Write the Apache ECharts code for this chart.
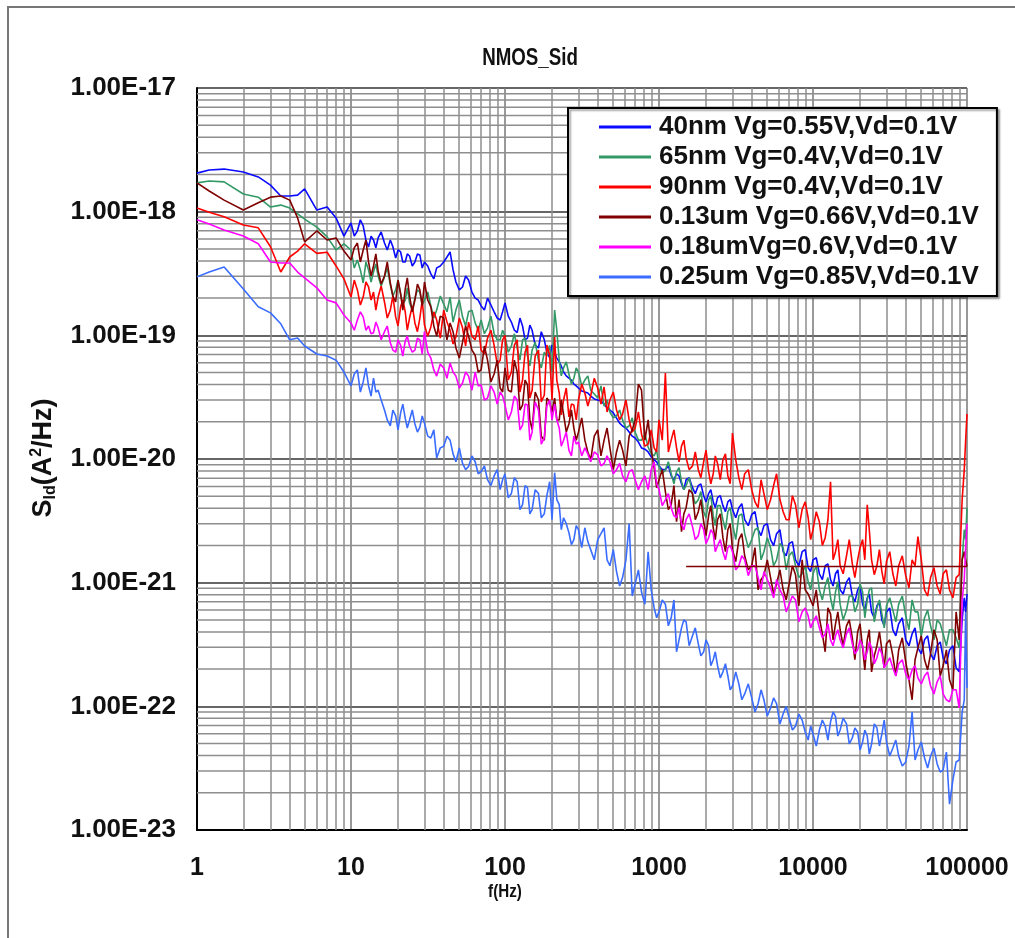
<!DOCTYPE html>
<html>
<head>
<meta charset="utf-8">
<title>NMOS_Sid</title>
<script src="https://cdn.jsdelivr.net/npm/echarts@6/dist/echarts.min.js"></script>
<style>
html, body { margin: 0; padding: 0; background: #fff; }
#chart { width: 1015px; height: 938px; }
</style>
</head>
<body>
<div id="chart"></div>
<script>
/* ============================================================
   NMOS_Sid · drain current noise spectra (log-log)
   ============================================================ */

// ==================== Data ====================
// main frequency grid (Hz)
const freqs = [
    1, 1.2, 1.5, 2, 2.5, 3, 3.5, 4, 4.5, 5, 6, 7, 8, 9,
    10, 11, 12, 13, 14, 15, 16.5, 18, 19.5, 21, 22.5, 24, 26, 28, 30, 33, 36, 40, 44, 48, 53, 58, 64, 70, 77, 85, 93,
    100, 110, 120, 130, 140, 150, 165, 180, 195, 210, 225, 240, 260, 280, 300, 330, 360, 400, 440, 480, 530, 580, 640, 700, 770, 850, 930,
    1000, 1100, 1200, 1300, 1400, 1500, 1650, 1800, 1950, 2100, 2250, 2400, 2600, 2800, 3000, 3300, 3600, 4000, 4400, 4800, 5300, 5800, 6400, 7000, 7700, 8500, 9300,
    10000, 11000, 12000, 13000, 14000, 15000, 16500, 18000, 19500, 21000, 22500, 24000, 26000, 28000, 30000, 33000, 36000, 40000, 44000, 48000, 53000, 58000, 64000, 70000, 77000, 85000, 93000, 96000, 98000, 100000
];

// in-between frequencies where the noisy traces swing the other way
const midFreqs = [
    10.5, 11.5, 12.5, 13.5, 14.5, 15.7, 17.2, 18.7, 20.2, 21.7, 23.2, 25, 27, 29, 31.5, 34.5, 38, 42, 46, 50.5, 55.5, 61, 67, 73.5, 81, 89, 96.5,
    105, 115, 125, 135, 145, 157, 172, 187, 202, 217, 232, 250, 270, 290, 315, 345, 380, 420, 460, 505, 555, 610, 670, 735, 810, 890, 965,
    1050, 1150, 1250, 1350, 1450, 1570, 1720, 1870, 2020, 2170, 2320, 2500, 2700, 2900, 3150, 3450, 3800, 4200, 4600, 5050, 5550, 6100, 6700, 7350, 8100, 8900, 9650,
    10500, 11500, 12500, 13500, 14500, 15700, 17200, 18700, 20200, 21700, 23200, 25000, 27000, 29000, 31500, 34500, 38000, 42000, 46000, 50500, 55500, 61000, 67000, 73500, 81000, 89000
];

const s40nm = [
    2.05e-18, 2.17e-18, 2.21e-18, 2.09e-18, 1.91e-18, 1.64e-18, 1.34e-18, 1.34e-18, 1.36e-18, 1.53e-18, 1.03e-18, 1.09e-18, 8.9e-19, 6.35e-19,
    8.1e-19, 6.98e-19, 7.67e-19, 5.18e-19, 5.9e-19, 6.13e-19, 5.58e-19, 5.9e-19, 4.22e-19, 4.72e-19, 3.92e-19, 4.38e-19, 3.92e-19, 4.47e-19, 3.92e-19, 3.14e-19, 3.51e-19, 3.92e-19, 4.72e-19, 2.7e-19, 2.46e-19, 2.8e-19, 2.0e-19, 1.73e-19, 2.0e-19, 1.55e-19, 1.33e-19,
    1.83e-19, 1.28e-19, 1.05e-19, 1.19e-19, 9.5e-20, 1.1e-19, 7.9e-20, 9.2e-20, 6.6e-20, 7.3e-20, 6.1e-20, 5.05e-20, 4.5e-20, 4.04e-20, 3.75e-20, 3.48e-20, 3.23e-20, 3.0e-20, 2.78e-20, 2.49e-20, 2.14e-20, 1.85e-20, 1.65e-20, 1.48e-20, 1.23e-20, 1.14e-20, 9.85e-21,
    8.8e-21, 8.2e-21, 7.3e-21, 7.6e-21, 6.3e-21, 6.8e-21, 5.86e-21, 6.1e-21, 5.05e-21, 5.25e-21, 4.5e-21, 4.87e-21, 4.2e-21, 4.5e-21, 3.9e-21, 4.04e-21, 3.23e-21, 3.55e-21, 2.68e-21, 2.89e-21, 2.23e-21, 2.49e-21, 1.78e-21, 2.07e-21, 1.53e-21, 1.78e-21, 1.32e-21,
    1.53e-21, 1.18e-21, 1.37e-21, 1.06e-21, 1.18e-21, 8.75e-22, 1.01e-21, 7.8e-22, 8.75e-22, 6.7e-22, 7.55e-22, 5.8e-22, 6.5e-22, 5.0e-22, 5.8e-22, 4.16e-22, 4.65e-22, 3.45e-22, 3.85e-22, 2.97e-22, 3.45e-22, 2.66e-22, 3.09e-22, 2.47e-22, 2.86e-22, 2.05e-22, 5.0e-22, 7.55e-22, 5.8e-22, 8.1e-22
];
const s40nmMid = [
    6.35e-19, 8.6e-19, 5.9e-19, 6.35e-19, 5.1e-19, 6.85e-19, 4.9e-19, 5.2e-19, 4.9e-19, 3.92e-19, 4.55e-19, 3.64e-19, 4.55e-19, 3.5e-19, 3.64e-19, 2.86e-19, 3.64e-19, 4.3e-19, 3.38e-19, 2.33e-19, 3.02e-19, 2.24e-19, 1.93e-19, 1.6e-19, 1.76e-19, 1.38e-19, 1.55e-19,
    1.43e-19, 1.1e-19, 1.38e-19, 9.2e-20, 1.21e-19, 8.35e-20, 1.07e-19, 7.3e-20, 8.35e-20, 6.55e-20, 5.65e-20, 4.7e-20, 4.35e-20, 3.9e-20, 3.55e-20, 3.42e-20, 3.06e-20, 2.94e-20, 2.58e-20, 2.36e-20, 1.95e-20, 1.78e-20, 1.53e-20, 1.37e-20, 1.2e-20, 1.04e-20, 9.5e-21,
    8.2e-21, 8.8e-21, 6.8e-21, 7.3e-21, 5.65e-21, 7.06e-21, 5.25e-21, 6.3e-21, 4.5e-21, 5.65e-21, 4.04e-21, 5.05e-21, 3.75e-21, 4.7e-21, 3.35e-21, 4.35e-21, 2.89e-21, 3.75e-21, 2.4e-21, 3.0e-21, 1.99e-21, 2.68e-21, 1.65e-21, 2.15e-21, 1.37e-21, 1.85e-21, 1.23e-21,
    1.59e-21, 1.06e-21, 1.42e-21, 9.4e-22, 1.27e-21, 8.1e-22, 1.1e-21, 7.0e-22, 9.4e-22, 6.0e-22, 8.1e-22, 5.2e-22, 7.0e-22, 4.48e-22, 6.25e-22, 3.72e-22, 5.2e-22, 3.09e-22, 4.31e-22, 2.66e-22, 3.72e-22, 2.38e-22, 3.32e-22, 2.21e-22, 3.09e-22, 1.9e-22
];

const s65nm = [
    1.71e-18, 1.77e-18, 1.74e-18, 1.39e-18, 1.31e-18, 1.09e-18, 1.13e-18, 1.07e-18, 9.6e-19, 8.7e-19, 7.5e-19, 6.25e-19, 4.9e-19, 5.5e-19,
    4.9e-19, 4.07e-19, 2.65e-19, 3.38e-19, 3.25e-19, 3.02e-19, 2.97e-19, 2.56e-19, 2.33e-19, 2.16e-19, 1.93e-19, 1.83e-19, 2.0e-19, 2.24e-19, 1.93e-19, 1.73e-19, 1.6e-19, 1.79e-19, 2.04e-19, 1.6e-19, 1.41e-19, 1.55e-19, 1.26e-19, 1.33e-19, 1.15e-19, 1.03e-19, 9.2e-20,
    9.85e-20, 8.2e-20, 7.9e-20, 9.2e-20, 6.8e-20, 7.6e-20, 6.3e-20, 7.3e-20, 8.3e-20, 1.6e-19, 6.3e-20, 5.45e-20, 4.87e-20, 4.5e-20, 5.05e-20, 4.35e-20, 3.6e-20, 3.11e-20, 2.68e-20, 2.4e-20, 2.23e-20, 2.07e-20, 1.85e-20, 1.65e-20, 1.42e-20, 1.25e-20, 1.06e-20,
    8.8e-21, 8.2e-21, 7.6e-21, 7.9e-21, 6.55e-21, 6.1e-21, 5.25e-21, 4.68e-21, 3.75e-21, 4.68e-21, 3.48e-21, 4.2e-21, 3.23e-21, 3.75e-21, 3.0e-21, 3.48e-21, 2.49e-21, 2.23e-21, 2.78e-21, 1.78e-21, 1.92e-21, 1.53e-21, 1.92e-21, 1.65e-21, 1.37e-21, 1.18e-21, 1.02e-21,
    1.18e-21, 8.75e-22, 9.4e-22, 7.55e-22, 8.4e-22, 6.7e-22, 6.0e-22, 7.8e-22, 6.7e-22, 8.4e-22, 7.25e-22, 9.1e-22, 6.25e-22, 5.6e-22, 6.5e-22, 6.0e-22, 6.7e-22, 5.4e-22, 7.25e-22, 5.8e-22, 5.2e-22, 4.48e-22, 5.0e-22, 3.85e-22, 4.16e-22, 3.58e-22, 1.53e-21, 2.68e-21, 2.23e-21, 4.04e-21
];
const s65nmMid = [
    3.5e-19, 3.38e-19, 3.92e-19, 2.7e-19, 3.78e-19, 2.51e-19, 3.5e-19, 2.08e-19, 2.8e-19, 1.79e-19, 2.42e-19, 1.6e-19, 2.33e-19, 1.76e-19, 2.24e-19, 1.38e-19, 2.08e-19, 1.55e-19, 1.28e-19, 1.93e-19, 1.19e-19, 1.6e-19, 1.1e-19, 1.03e-19, 1.43e-19, 9.2e-20, 1.1e-19,
    7.3e-20, 1.03e-19, 6.3e-20, 9.5e-20, 5.65e-20, 8.8e-20, 5.45e-20, 6.8e-20, 5.05e-20, 1.1e-19, 4.7e-20, 6.1e-20, 4.04e-20, 5.45e-20, 3.9e-20, 4.7e-20, 3.35e-20, 3.9e-20, 3.0e-20, 2.15e-20, 2.49e-20, 1.78e-20, 2.15e-20, 1.42e-20, 1.59e-20, 1.1e-20, 1.18e-20,
    7.6e-21, 9.5e-21, 6.3e-21, 8.5e-21, 5.65e-21, 7.06e-21, 4.35e-21, 5.45e-21, 3.35e-21, 5.05e-21, 2.89e-21, 4.2e-21, 2.68e-21, 4.04e-21, 2.23e-21, 3.6e-21, 1.92e-21, 2.68e-21, 1.53e-21, 2.31e-21, 1.37e-21, 2.07e-21, 1.27e-21, 1.78e-21, 1.1e-21, 1.37e-21, 8.75e-22,
    1.37e-21, 7.25e-22, 1.1e-21, 6.0e-22, 1.02e-21, 5.0e-22, 7.8e-22, 5.8e-22, 9.8e-22, 5.2e-22, 8.75e-22, 4.82e-22, 7.25e-22, 4.31e-22, 7.55e-22, 4.82e-22, 7.8e-22, 4.16e-22, 5.8e-22, 3.72e-22, 6.0e-22, 3.45e-22, 4.65e-22, 3.09e-22, 4.16e-22, 2.97e-22
];

const s90nm = [
    1.07e-18, 9.9e-19, 9.1e-19, 7.8e-19, 7.4e-19, 5.2e-19, 3.25e-19, 4.3e-19, 4.8e-19, 5.5e-19, 4.6e-19, 4.7e-19, 3.64e-19, 2.86e-19,
    2.04e-19, 2.33e-19, 2.04e-19, 2.46e-19, 2.24e-19, 2.04e-19, 1.86e-19, 1.6e-19, 1.41e-19, 1.7e-19, 1.55e-19, 1.38e-19, 1.26e-19, 1.38e-19, 1.21e-19, 1.17e-19, 1.33e-19, 1.6e-19, 1.1e-19, 9.7e-20, 1.15e-19, 1.28e-19, 9.2e-20, 7.6e-20, 9.5e-20, 8.3e-20, 6.3e-20,
    1.0e-19, 5.05e-20, 9.2e-20, 4.35e-20, 8.3e-20, 3.6e-20, 7.6e-20, 3.29e-20, 6.9e-20, 9.7e-20, 3.42e-20, 3.0e-20, 2.19e-20, 2.73e-20, 3.0e-20, 3.42e-20, 3.23e-20, 3.75e-20, 3.82e-20, 3.0e-20, 2.49e-20, 2.31e-20, 2.07e-20, 1.78e-20, 1.59e-20, 1.32e-20, 1.23e-20,
    2.07e-20, 4.96e-20, 1.42e-20, 1.23e-20, 1.27e-20, 1.02e-20, 8.8e-21, 8.2e-21, 9.5e-21, 7.9e-21, 7.6e-21, 9.2e-21, 9.85e-21, 7.3e-21, 1.62e-20, 7.06e-21, 7.6e-21, 5.65e-21, 4.04e-21, 5.25e-21, 4.68e-21, 7.6e-21, 3.75e-21, 3.23e-21, 4.27e-21, 3.9e-21, 3.35e-21,
    2.68e-21, 3.11e-21, 2.31e-21, 6.55e-21, 1.78e-21, 1.37e-21, 1.65e-21, 1.42e-21, 1.53e-21, 2.23e-21, 4.27e-21, 1.53e-21, 1.37e-21, 1.23e-21, 1.48e-21, 1.18e-21, 1.37e-21, 1.14e-21, 1.53e-21, 2.36e-21, 8.75e-22, 1.1e-21, 9.4e-22, 1.18e-21, 8.75e-22, 1.1e-21, 4.68e-21, 8.2e-21, 1.42e-20, 2.31e-20
];
const s90nmMid = [
    2.8e-19, 1.76e-19, 2.7e-19, 1.93e-19, 1.6e-19, 2.51e-19, 1.38e-19, 2.08e-19, 1.19e-19, 1.93e-19, 1.1e-19, 1.73e-19, 1.07e-19, 1.93e-19, 9.85e-20, 1.55e-19, 9.5e-20, 1.28e-19, 8.5e-20, 1.38e-19, 8.2e-20, 9.85e-20, 1.19e-19, 7.06e-20, 1.1e-19, 5.86e-20, 9.2e-20,
    4.35e-20, 8.35e-20, 3.48e-20, 7.3e-20, 3.11e-20, 6.8e-20, 2.89e-20, 8.35e-20, 3.0e-20, 4.35e-20, 2.27e-20, 3.75e-20, 2.78e-20, 2.07e-20, 4.04e-20, 2.68e-20, 4.5e-20, 2.78e-20, 2.4e-20, 3.48e-20, 2.07e-20, 3.0e-20, 1.65e-20, 2.4e-20, 1.27e-20, 1.72e-20, 1.14e-20,
    1.42e-20, 1.14e-20, 1.72e-20, 9.5e-21, 1.42e-20, 8.2e-21, 1.14e-20, 7.06e-21, 1.18e-20, 6.3e-21, 1.06e-20, 6.8e-21, 1.1e-20, 6.3e-21, 9.85e-21, 5.65e-21, 8.2e-21, 4.5e-21, 6.8e-21, 3.9e-21, 6.1e-21, 4.7e-21, 3.23e-21, 5.05e-21, 2.78e-21, 4.5e-21, 2.23e-21,
    3.75e-21, 2.0e-21, 3.23e-21, 1.53e-21, 2.23e-21, 1.18e-21, 2.23e-21, 1.1e-21, 1.92e-21, 1.53e-21, 2.68e-21, 1.16e-21, 1.85e-21, 9.8e-22, 1.78e-21, 9.4e-22, 1.65e-21, 9.1e-22, 1.37e-21, 1.53e-21, 7.8e-22, 1.32e-21, 8.1e-22, 1.27e-21, 7.55e-22, 1.16e-21
];

const s130nm = [
    1.71e-18, 1.47e-18, 1.24e-18, 1.03e-18, 1.18e-18, 1.31e-18, 1.34e-18, 1.24e-18, 8.9e-19, 5.7e-19, 6.98e-19, 5.9e-19, 6.13e-19, 4.8e-19,
    4.07e-19, 5.58e-19, 4.9e-19, 3.92e-19, 3.64e-19, 3.32e-19, 3.02e-19, 2.65e-19, 1.86e-19, 2.16e-19, 2.37e-19, 2.08e-19, 1.93e-19, 2.33e-19, 2.7e-19, 1.7e-19, 9.85e-20, 1.38e-19, 1.26e-19, 7.9e-20, 8.8e-20, 9.85e-20, 6.9e-20, 5.25e-20, 6.3e-20, 4.87e-20, 3.75e-20,
    5.45e-20, 3.48e-20, 5.05e-20, 2.73e-20, 3.97e-20, 1.72e-20, 3.0e-20, 1.42e-20, 2.89e-20, 3.11e-20, 2.07e-20, 2.31e-20, 1.92e-20, 1.78e-20, 1.65e-20, 1.42e-20, 9.85e-21, 1.72e-20, 1.42e-20, 1.23e-20, 1.14e-20, 1.18e-20, 1.53e-20, 2.07e-20, 3.6e-20, 2.07e-20, 8.5e-21,
    6.8e-21, 5.45e-21, 4.27e-21, 3.11e-21, 2.58e-21, 4.04e-21, 5.25e-21, 3.75e-21, 3.11e-21, 3.48e-21, 2.78e-21, 3.23e-21, 2.31e-21, 2.68e-21, 1.85e-21, 2.23e-21, 1.65e-21, 1.37e-21, 8.75e-22, 1.14e-21, 1.1e-21, 9.8e-22, 8.75e-22, 9.8e-22, 1.16e-21, 1.53e-21, 8.1e-22,
    6.5e-22, 5.2e-22, 2.76e-22, 5.6e-22, 4.65e-22, 4.16e-22, 4.48e-22, 3.58e-22, 4.0e-22, 2.97e-22, 3.45e-22, 1.9e-22, 3.09e-22, 2.86e-22, 3.2e-22, 2.56e-22, 2.86e-22, 2.29e-22, 1.13e-22, 2.97e-22, 2.38e-22, 2.66e-22, 3.45e-22, 2.13e-22, 1.64e-22, 5.8e-22, 1.53e-21, 1.78e-21, 1.53e-21, 1.35e-21
];
const s130nmMid = [
    5.1e-19, 3.92e-19, 5.9e-19, 3.02e-19, 4.55e-19, 2.6e-19, 3.92e-19, 2.08e-19, 2.8e-19, 1.6e-19, 2.91e-19, 1.55e-19, 2.6e-19, 1.73e-19, 1.93e-19, 1.19e-19, 1.43e-19, 9.2e-20, 1.07e-19, 6.55e-20, 1.19e-19, 7.6e-20, 5.05e-20, 8.2e-20, 4.2e-20, 6.3e-20, 3.48e-20,
    3.6e-20, 6.3e-20, 2.49e-20, 4.35e-20, 2.07e-20, 3.48e-20, 1.53e-20, 3.11e-20, 2.4e-20, 2.07e-20, 3.0e-20, 1.65e-20, 2.49e-20, 1.42e-20, 2.15e-20, 1.14e-20, 1.53e-20, 1.06e-20, 1.78e-20, 8.2e-21, 1.42e-20, 8.8e-21, 1.72e-20, 4.04e-20, 1.42e-20, 1.18e-20, 5.86e-21,
    8.2e-21, 3.9e-21, 6.1e-21, 4.7e-21, 3.6e-21, 5.65e-21, 3.23e-21, 4.7e-21, 2.4e-21, 4.2e-21, 2.23e-21, 3.6e-21, 1.78e-21, 3.0e-21, 1.48e-21, 2.49e-21, 1.27e-21, 1.92e-21, 1.06e-21, 1.53e-21, 8.1e-22, 1.27e-21, 7.25e-22, 1.37e-21, 6.5e-22, 8.75e-22, 7.25e-22,
    8.75e-22, 3.85e-22, 6.25e-22, 3.45e-22, 5.8e-22, 3.09e-22, 5.0e-22, 2.38e-22, 4.65e-22, 1.97e-22, 4.16e-22, 2.56e-22, 4.0e-22, 2.05e-22, 3.45e-22, 1.76e-22, 3.58e-22, 1.64e-22, 2.38e-22, 3.72e-22, 1.97e-22, 4.16e-22, 1.76e-22, 2.86e-22, 1.36e-22, 3.45e-22
];

// 0.13um trace jumps back across the plot at the end of the sweep
const tail130Freqs = [100000, 1500];
const tail130Values = [1.35e-21, 1.35e-21];

const s180nm = [
    8.6e-19, 7.95e-19, 7.1e-19, 6.35e-19, 5.5e-19, 3.92e-19, 3.85e-19, 3.85e-19, 3.25e-19, 2.91e-19, 2.42e-19, 1.93e-19, 1.83e-19, 1.46e-19,
    1.26e-19, 1.33e-19, 1.41e-19, 1.19e-19, 1.05e-19, 1.15e-19, 1.07e-19, 8.7e-20, 7.3e-20, 8.3e-20, 9.0e-20, 8.2e-20, 7.6e-20, 9.2e-20, 1.07e-19, 6.55e-20, 4.68e-20, 5.45e-20, 5.97e-20, 4.68e-20, 4.12e-20, 4.68e-20, 5.05e-20, 3.97e-20, 3.11e-20, 3.48e-20, 3.48e-20,
    2.73e-20, 2.4e-20, 3.0e-20, 1.88e-20, 2.73e-20, 1.65e-20, 2.49e-20, 1.48e-20, 3.0e-20, 2.78e-20, 1.78e-20, 1.42e-20, 1.18e-20, 1.53e-20, 1.37e-20, 1.23e-20, 9.5e-21, 1.08e-20, 9.2e-21, 9.5e-21, 8.2e-21, 7.3e-21, 7.9e-21, 6.8e-21, 6.55e-21, 5.65e-21, 9.5e-21,
    5.65e-21, 4.68e-21, 4.04e-21, 3.35e-21, 3.0e-21, 3.23e-21, 2.84e-21, 2.4e-21, 2.68e-21, 2.31e-21, 2.49e-21, 1.99e-21, 1.78e-21, 1.92e-21, 1.78e-21, 1.37e-21, 1.53e-21, 1.37e-21, 1.1e-21, 1.23e-21, 9.1e-22, 1.06e-21, 7.8e-22, 6.7e-22, 7.25e-22, 5.8e-22, 5.4e-22,
    4.82e-22, 4.31e-22, 3.85e-22, 3.45e-22, 3.72e-22, 3.45e-22, 3.85e-22, 3.2e-22, 2.86e-22, 3.09e-22, 2.76e-22, 2.97e-22, 2.47e-22, 2.66e-22, 2.21e-22, 2.05e-22, 2.21e-22, 1.83e-22, 1.97e-22, 1.7e-22, 1.76e-22, 1.46e-22, 1.58e-22, 1.26e-22, 1.09e-22, 1.36e-22, 7.25e-22, 1.06e-21, 1.92e-21, 3.0e-21
];
const s180nmMid = [
    1.1e-19, 1.55e-19, 1.1e-19, 1.03e-19, 1.28e-19, 9.2e-20, 1.19e-19, 7.6e-20, 9.2e-20, 6.8e-20, 9.85e-20, 7.3e-20, 9.5e-20, 7.06e-20, 7.3e-20, 5.25e-20, 5.86e-20, 4.5e-20, 5.05e-20, 3.75e-20, 5.05e-20, 3.6e-20, 3.9e-20, 3.0e-20, 3.9e-20, 2.78e-20, 3.23e-20,
    2.07e-20, 3.23e-20, 1.72e-20, 2.78e-20, 1.42e-20, 2.89e-20, 1.32e-20, 2.68e-20, 2.07e-20, 2.07e-20, 1.27e-20, 1.65e-20, 1.06e-20, 1.32e-20, 1.06e-20, 1.1e-20, 1.14e-20, 8.8e-21, 1.06e-20, 7.6e-21, 9.2e-21, 6.55e-21, 8.2e-21, 5.65e-21, 7.3e-21, 8.2e-21, 6.3e-21,
    4.2e-21, 5.25e-21, 3.48e-21, 4.04e-21, 2.68e-21, 3.6e-21, 2.23e-21, 3.0e-21, 2.07e-21, 2.68e-21, 1.78e-21, 2.23e-21, 1.53e-21, 1.99e-21, 1.27e-21, 1.65e-21, 1.14e-21, 1.37e-21, 8.75e-22, 1.06e-21, 7.55e-22, 8.75e-22, 5.8e-22, 7.8e-22, 4.82e-22, 6.25e-22, 4.31e-22,
    5.4e-22, 3.58e-22, 4.65e-22, 3.09e-22, 4.16e-22, 2.97e-22, 4.31e-22, 2.66e-22, 3.45e-22, 2.38e-22, 3.32e-22, 2.21e-22, 2.97e-22, 2.05e-22, 2.47e-22, 1.76e-22, 2.38e-22, 1.64e-22, 2.13e-22, 1.52e-22, 1.9e-22, 1.26e-22, 1.76e-22, 1.13e-22, 1.36e-22, 9.7e-23
];

const s250nm = [
    2.97e-19, 3.25e-19, 3.57e-19, 2.37e-19, 1.7e-19, 1.52e-19, 1.24e-19, 9.2e-20, 9.5e-20, 8.2e-20, 7.06e-20, 6.8e-20, 6.3e-20, 5.05e-20,
    3.9e-20, 5.25e-20, 4.2e-20, 3.9e-20, 4.5e-20, 3.6e-20, 2.49e-20, 1.85e-20, 2.23e-20, 2.36e-20, 2.14e-20, 2.07e-20, 1.92e-20, 1.81e-20, 1.95e-20, 1.48e-20, 1.02e-20, 1.27e-20, 1.42e-20, 9.5e-21, 9.2e-21, 8.7e-21, 9.5e-21, 7.9e-21, 6.8e-21, 7.3e-21, 5.65e-21,
    7.6e-21, 5.25e-21, 6.55e-21, 4.27e-21, 5.86e-21, 3.9e-21, 5.25e-21, 3.61e-21, 6.55e-21, 7.75e-21, 4.27e-21, 3.35e-21, 2.54e-21, 2.23e-21, 2.68e-21, 2.78e-21, 1.85e-21, 2.23e-21, 2.78e-21, 1.37e-21, 1.23e-21, 1.1e-21, 3.0e-21, 9.8e-22, 8.4e-22, 1.78e-21, 6.25e-22,
    5.8e-22, 6.7e-22, 5.2e-22, 2.76e-22, 4.31e-22, 4.82e-22, 3.72e-22, 3.2e-22, 2.76e-22, 3.09e-22, 2.38e-22, 2.13e-22, 1.9e-22, 1.76e-22, 1.46e-22, 1.52e-22, 1.26e-22, 1.17e-22, 1.05e-22, 1.13e-22, 9.7e-23, 1.05e-22, 8.7e-23, 8.05e-23, 6.9e-23, 7.75e-23, 5.34e-23,
    5.97e-23, 6.43e-23, 6.9e-23, 7.5e-23, 8.3e-23, 6.43e-23, 7.2e-23, 5.55e-23, 6.2e-23, 5.15e-23, 5.75e-23, 4.95e-23, 6.7e-23, 5.97e-23, 5.15e-23, 4.6e-23, 3.97e-23, 3.55e-23, 9.0e-23, 4.44e-23, 3.82e-23, 3.97e-23, 3.42e-23, 3.06e-23, 1.62e-23, 3.55e-23, 9.0e-23, 1.13e-22, 5.8e-22, 1.41e-22
];
const s250nmMid = [
    4.87e-20, 3.48e-20, 5.45e-20, 3.23e-20, 3.48e-20, 3.0e-20, 2.07e-20, 2.49e-20, 1.72e-20, 2.78e-20, 1.78e-20, 2.49e-20, 1.65e-20, 2.23e-20, 1.53e-20, 1.72e-20, 1.23e-20, 1.53e-20, 1.1e-20, 1.23e-20, 8.2e-21, 1.06e-20, 7.6e-21, 8.8e-21, 6.1e-21, 8.2e-21, 6.8e-21,
    4.87e-21, 7.06e-21, 3.9e-21, 6.1e-21, 3.6e-21, 5.65e-21, 3.35e-21, 5.05e-21, 3.23e-21, 4.7e-21, 2.68e-21, 3.0e-21, 2.03e-21, 2.89e-21, 1.92e-21, 2.15e-21, 1.53e-21, 2.49e-21, 1.53e-21, 1.85e-21, 9.4e-22, 1.53e-21, 7.8e-22, 1.27e-21, 6.7e-22, 8.75e-22, 5.2e-22,
    7.25e-22, 4.48e-22, 7.25e-22, 3.45e-22, 5.0e-22, 3.09e-22, 4.31e-22, 2.56e-22, 3.45e-22, 2.13e-22, 2.76e-22, 1.7e-22, 2.21e-22, 1.36e-22, 1.9e-22, 1.13e-22, 1.52e-22, 9.0e-23, 1.36e-22, 8.35e-23, 1.17e-22, 7.2e-23, 1.0e-22, 6.43e-23, 8.66e-23, 6.2e-23, 6.93e-23,
    4.78e-23, 7.75e-23, 5.34e-23, 9.0e-23, 5.75e-23, 8.04e-23, 4.96e-23, 6.68e-23, 4.44e-23, 6.43e-23, 4.12e-23, 7.2e-23, 4.78e-23, 7.75e-23, 3.97e-23, 5.34e-23, 3.29e-23, 4.78e-23, 3.68e-23, 5.15e-23, 3.17e-23, 4.6e-23, 2.94e-23, 4.27e-23, 2.54e-23, 3.68e-23
];

const seriesNames = [
    '40nm Vg=0.55V,Vd=0.1V',
    '65nm Vg=0.4V,Vd=0.1V',
    '90nm Vg=0.4V,Vd=0.1V',
    '0.13um Vg=0.66V,Vd=0.1V',
    '0.18umVg=0.6V,Vd=0.1V',
    '0.25um Vg=0.85V,Vd=0.1V'
];
const seriesValues = [s40nm, s65nm, s90nm, s130nm, s180nm, s250nm];
const seriesMidValues = [s40nmMid, s65nmMid, s90nmMid, s130nmMid, s180nmMid, s250nmMid];
const seriesColors = ['#0a0aff', '#339966', '#ff0000', '#800000', '#ff00ff', '#3a6cff'];

const xTicks = [1, 10, 100, 1000, 10000, 100000];
const yTicks = [1e-23, 1e-22, 1e-21, 1e-20, 1e-19, 1e-18, 1e-17];

// ==================== Helpers ====================
const FONT = "'Liberation Sans', Arial, sans-serif";

function toPairs(xs, ys) {
    return xs.map((x, i) => [x, ys[i]]);
}

function mergeByFreq(a, b) {
    return a.concat(b).sort((p, q) => p[0] - q[0]);
}

// 2..9 inside every decade, for the thin grid lines
function minorValues(ticks) {
    const out = [];
    for (let i = 0; i < ticks.length - 1; i++) {
        for (let m = 2; m <= 9; m++) out.push(ticks[i] * m);
    }
    return out;
}

function decadeLabel(v) {
    const e = Math.log10(v);
    if (!isFinite(e) || Math.abs(e - Math.round(e)) > 0.01) return '';
    return '1.00E' + Math.round(e);
}

// ==================== Chart ====================
const chart = echarts.init(document.getElementById('chart'), null, { renderer: 'canvas' });

const xMin = xTicks[0], xMax = xTicks[xTicks.length - 1];
const GRID_MINOR = '#8e8e8e';

// thin horizontal grid lines (markLine rounds such small values away, so plain lines)
const minorY = minorValues(yTicks).map(v => ({
    type: 'line',
    data: [[xMin, v], [xMax, v]],
    silent: true,
    showSymbol: false,
    symbol: 'none',
    z: 1,
    lineStyle: { color: GRID_MINOR, width: 1.5 },
    emphasis: { disabled: true }
}));

const lineSeries = seriesNames.map((name, i) => ({
    name: name,
    type: 'line',
    data: mergeByFreq(toPairs(freqs, seriesValues[i]), toPairs(midFreqs, seriesMidValues[i])),
    showSymbol: false,
    symbol: 'none',
    z: 3,
    lineStyle: { color: seriesColors[i], width: 1.6 },
    itemStyle: { color: seriesColors[i] },
    emphasis: { disabled: true }
}));

lineSeries.push({
    name: seriesNames[3],
    type: 'line',
    data: toPairs(tail130Freqs, tail130Values),
    showSymbol: false,
    symbol: 'none',
    z: 3,
    lineStyle: { color: seriesColors[3], width: 1.6 },
    itemStyle: { color: seriesColors[3] },
    emphasis: { disabled: true }
});

chart.setOption({
    animation: false,
    backgroundColor: '#fff',
    grid: { left: 197, right: 48, top: 88, bottom: 108, containLabel: false, outerBoundsMode: 'none' },
    legend: {
        data: seriesNames,
        orient: 'vertical',
        left: 568,
        top: 108,
        icon: 'rect',
        itemWidth: 52,
        itemHeight: 3,
        itemGap: 4,
        padding: [6, 18, 6, 31],
        backgroundColor: '#fff',
        borderColor: '#000',
        borderWidth: 2,
        shadowColor: 'rgba(0,0,0,0.35)',
        shadowOffsetX: 2,
        shadowOffsetY: 2,
        shadowBlur: 2,
        selectedMode: false,
        textStyle: { fontFamily: FONT, fontSize: 26, fontWeight: 'bold', color: '#111', lineHeight: 26, padding: [0, 0, 0, 3] }
    },
    xAxis: {
        type: 'log',
        logBase: 10,
        min: xMin,
        max: xMax,
        axisLine: { show: true, onZero: false, lineStyle: { color: '#000', width: 2 } },
        axisTick: { show: false },
        axisLabel: {
            margin: 26, fontFamily: FONT, fontSize: 25, fontWeight: 'bold', color: '#111',
            showMinLabel: true, showMaxLabel: true,
            formatter: v => String(Math.round(v))
        },
        splitLine: { show: true, lineStyle: { color: '#777', width: 1.5 } }
    },
    yAxis: {
        type: 'log',
        logBase: 10,
        min: 9.999999999999e-24,
        max: 1e-17,
        axisLine: { show: true, onZero: false, lineStyle: { color: '#000', width: 2 } },
        axisTick: { show: false },
        axisLabel: {
            margin: 21, fontFamily: FONT, fontSize: 26, fontWeight: 'bold', color: '#111',
            showMinLabel: true, showMaxLabel: true,
            formatter: decadeLabel
        },
        splitLine: { show: true, lineStyle: { color: '#333', width: 1.5 } }
    },
    series: [
        {
            name: 'minor-grid-x',
            type: 'line',
            data: [],
            silent: true,
            z: 1,
            markLine: {
                silent: true,
                animation: false,
                z: 1,
                symbol: ['none', 'none'],
                label: { show: false },
                emphasis: { disabled: true },
                lineStyle: { color: GRID_MINOR, width: 1.5, type: 'solid' },
                data: minorValues(xTicks).map(v => ({ xAxis: v }))
            }
        },
        ...minorY,
        ...lineSeries
    ],
    graphic: [
        {
            type: 'rect', silent: true, z: 0,
            shape: { x: 8, y: 7, width: 1100, height: 1100 },
            style: { fill: 'none', stroke: '#777', lineWidth: 2 }
        },
        {
            type: 'text', silent: true,
            x: 530, y: 58, scaleX: 0.78,
            style: { text: 'NMOS_Sid', font: "bold 24px " + FONT, fill: '#111', align: 'center', verticalAlign: 'middle' }
        },
        {
            type: 'text', silent: true,
            x: 505, y: 892, scaleX: 0.8,
            style: { text: 'f(Hz)', font: "bold 19px " + FONT, fill: '#111', align: 'center', verticalAlign: 'middle' }
        },
        {
            type: 'text', silent: true,
            x: 44, y: 458,
            rotation: Math.PI / 2,
            style: {
                text: '{m|S}{sub|Id}{m|(A}{sup|2}{m|/Hz)}',
                align: 'center',
                verticalAlign: 'middle',
                fill: '#111',
                rich: {
                    m: { fontFamily: FONT, fontSize: 27, fontWeight: 'bold', lineHeight: 30, verticalAlign: 'middle', fill: '#111' },
                    sub: { fontFamily: FONT, fontSize: 16, fontWeight: 'bold', lineHeight: 14, verticalAlign: 'bottom', fill: '#111' },
                    sup: { fontFamily: FONT, fontSize: 16, fontWeight: 'bold', lineHeight: 14, verticalAlign: 'top', fill: '#111' }
                }
            }
        }
    ]
});

window.addEventListener('resize', () => chart.resize());
</script>
</body>
</html>
